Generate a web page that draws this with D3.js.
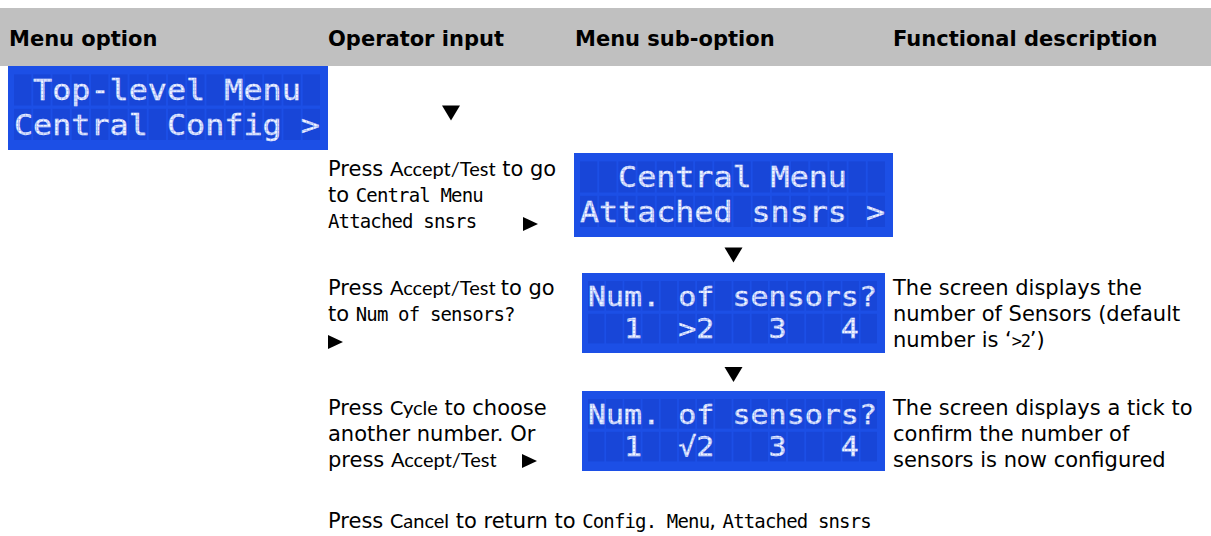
<!DOCTYPE html>
<html><head><meta charset="utf-8">
<script src="https://cdn.jsdelivr.net/npm/d3@7"></script>
<style>html,body{margin:0;padding:0;background:#fff;} svg{display:block;}</style>
</head><body><svg id="c" width="1211" height="536"></svg>
<script>
// ---------- data ----------
const headerLabels = ["Menu option", "Operator input", "Menu sub-option", "Functional description"];
const lcdLine1 = [" Top-level Menu ", "  Central Menu  ", "Num. of sensors?", "Num. of sensors?"];
const lcdLine2 = ["Central Config >", "Attached snsrs >", "  1  >2   3   4 ", "  1  \u221A2   3   4 "];
const operatorSteps = [
  [[["Press ", "sans"], ["Accept/Test", "cal"], [" to go", "sans"]],
   [["to ", "sans"], ["Central Menu", "mono"]],
   [["Attached snsrs", "mono"]]],
  [[["Press ", "sans"], ["Accept/Test", "cal"], [" ", "cal"], ["to go", "sans"]],
   [["to ", "sans"], ["Num of sensors?", "mono"]],
   []],
  [[["Press ", "sans"], ["Cycle", "cal"], [" to choose", "sans"]],
   [["another number. Or", "sans"]],
   [["press ", "sans"], ["Accept/Test", "cal"]]]
];
const descriptions = [
  [],
  [],
  [[["The screen displays the", "sans"]],
   [["number of Sensors (default", "sans"]],
   [["number is \u2018", "sans"], [">2", "monoS"], ["\u2019)", "sans"]]],
  [[["The screen displays a tick to", "sans"]],
   [["confirm the number of", "sans"]],
   [["sensors is now configured", "sans"]]]
];
const returnNote = [["Press ", "sans"], ["Cancel", "cal"], [" to return to ", "sans"], ["Config. Menu", "mono"], [", ", "sans"], ["Attached snsrs", "mono"]];

// ---------- layout ----------
const W = 1211, H = 536;
const svg = d3.select("#c");
const colX = d3.scaleOrdinal().domain(headerLabels).range([9, 328, 575, 893]);
const fonts = {
  sans:  {family: "'DejaVu Sans', Verdana, sans-serif", size: 21, ls: 0},
  cal:   {family: "Lato, 'Open Sans', sans-serif", size: 20, ls: 0},
  mono:  {family: "'DejaVu Sans Mono', monospace", size: 19, ls: -0.85},
  monoS: {family: "'DejaVu Sans Mono', monospace", size: 17, ls: -1.2}
};
const lcdBoxes = [
  {x: 8, y: 66, w: 320, h: 84},
  {x: 574, y: 153, w: 319, h: 84},
  {x: 582, y: 273, w: 303, h: 80},
  {x: 582, y: 391, w: 303, h: 80}
];
const stepBaseline = d3.scaleOrdinal().domain([0, 1, 2, 3]).range([null, 176, 295, 415]);
const linePitch = 26;

// pattern for dot-matrix look
const defs = svg.append("defs");
const pat = defs.append("pattern").attr("id", "dots").attr("patternUnits", "userSpaceOnUse")
  .attr("width", 3.6).attr("height", 3.6);
pat.append("rect").attr("width", 3.6).attr("height", 3.6).attr("fill", "#9fb4f8");
pat.append("rect").attr("width", 2.8).attr("height", 2.8).attr("fill", "#f2f5ff");

// header band
svg.append("rect").attr("x", 0).attr("y", 8).attr("width", W).attr("height", 58).attr("fill", "#c0c0c0");
svg.selectAll("text.hdr").data(headerLabels).join("text").attr("class", "hdr")
  .attr("x", d => colX(d)).attr("y", 46)
  .attr("font-family", "'DejaVu Sans', Verdana, sans-serif").attr("font-weight", "bold")
  .attr("font-size", 21).attr("fill", "#000").text(d => d);

// LCD screens
const lcd = svg.selectAll("g.lcd").data(lcdBoxes).join("g").attr("class", "lcd")
  .attr("transform", d => `translate(${d.x},${d.y})`);
lcd.append("rect").attr("width", d => d.w).attr("height", d => d.h).attr("fill", "#1c4fe6");
lcd.each(function(d, i) {
  const g = d3.select(this);
  const tx = 6, tw = d.w - 14;
  const cell = d3.scaleBand().domain(d3.range(16)).range([tx, tx + tw]).paddingInner(0.1);
  const rowCenters = [d.h * 0.285, d.h * 0.695];
  const ch = d.h * 0.37;
  rowCenters.forEach(rc => {
    g.selectAll(null).data(d3.range(16)).join("rect")
      .attr("x", c => cell(c)).attr("y", rc - ch / 2).attr("width", cell.bandwidth()).attr("height", ch)
      .attr("fill", "#1846d8");
  });
  const fs = d.h * 0.335;
  [lcdLine1[i], lcdLine2[i]].forEach((s, r) => {
    g.append("text").attr("x", tx).attr("y", rowCenters[r] + fs * 0.365)
      .attr("font-family", "'DejaVu Sans Mono', monospace").attr("font-size", fs)
      .attr("textLength", tw).attr("lengthAdjust", "spacingAndGlyphs")
      .attr("fill", "url(#dots)").attr("stroke", "#e4eaff").attr("stroke-width", 0.35)
      .attr("xml:space", "preserve").style("white-space", "pre").text(s);
  });
});

// rich text helper
function rich(sel, segs, x, y) {
  const t = sel.append("text").attr("x", x).attr("y", y).attr("fill", "#000").style("white-space", "pre");
  segs.forEach(([s, f]) => {
    t.append("tspan").attr("font-family", fonts[f].family).attr("font-size", fonts[f].size)
      .attr("letter-spacing", fonts[f].ls).text(s);
  });
  return t;
}

// operator input column
operatorSteps.forEach((lines, k) => {
  const b = stepBaseline(k + 1);
  lines.forEach((segs, j) => rich(svg, segs, colX(headerLabels[1]), b + j * linePitch));
});
// descriptions
descriptions.forEach((lines, k) => {
  if (!lines.length) return;
  const b = stepBaseline(k);
  lines.forEach((segs, j) => rich(svg, segs, colX(headerLabels[3]), b + j * linePitch));
});
// bottom note
rich(svg, returnNote, colX(headerLabels[1]), 528);

// arrows
const tri = d3.line();
const down = [[451, 113], [733.5, 255], [733.5, 374.5]];
const right = [[530.5, 224], [335.5, 342], [529.5, 461]];
svg.selectAll("path.down").data(down).join("path").attr("class", "down")
  .attr("d", ([cx, cy]) => tri([[cx - 9, cy - 7.5], [cx + 9, cy - 7.5], [cx, cy + 7.5]]) + "Z").attr("fill", "#000");
svg.selectAll("path.right").data(right).join("path").attr("class", "right")
  .attr("d", ([cx, cy]) => tri([[cx - 7.5, cy - 7], [cx + 7.5, cy], [cx - 7.5, cy + 7]]) + "Z").attr("fill", "#000");
</script>
</body></html>
